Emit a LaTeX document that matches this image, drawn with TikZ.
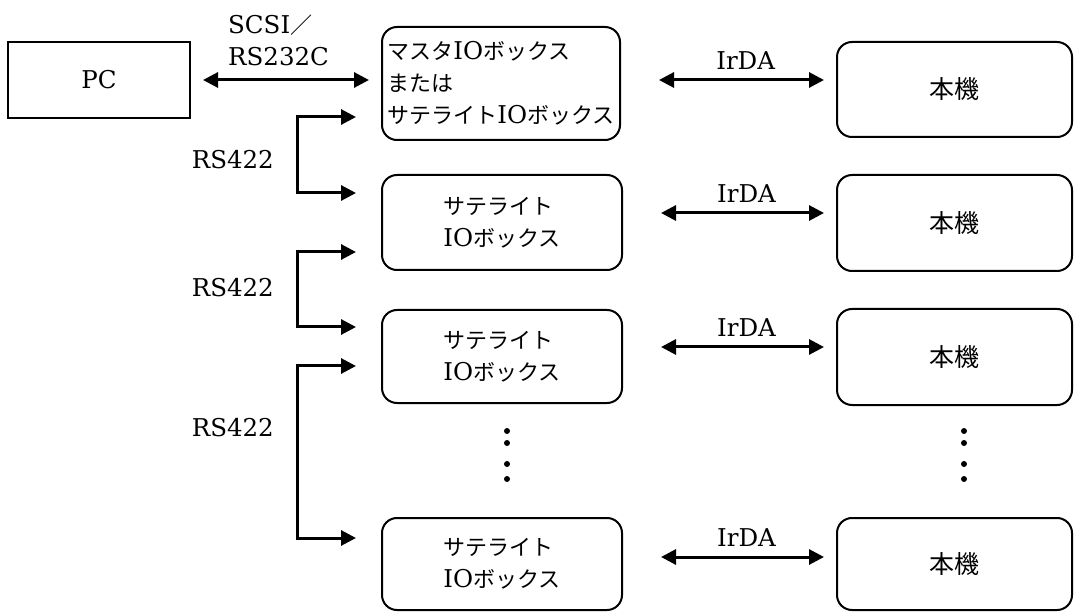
\documentclass[tikz,border=0pt]{standalone}
\usepackage{fontspec}
\setmainfont{DejaVu Serif}
\newfontfamily\jpfont{Noto Sans CJK JP}
\newcommand{\J}[1]{{\jpfont\fontsize{22}{32}\selectfont #1}}
\newcommand{\JK}[1]{{\jpfont\fontsize{25}{32}\selectfont #1}}
\usetikzlibrary{arrows.meta}
\begin{document}
\begin{tikzpicture}[x=1pt,y=-1pt,
  lbl/.style={font=\fontsize{24.5}{32}\selectfont, inner sep=0pt},
  rbox/.style={draw, line width=2pt, rounded corners=15pt, align=left,
    inner sep=0pt, font=\fontsize{24.5}{32}\selectfont},
  sbox/.style={draw, line width=2pt, inner sep=0pt, font=\fontsize{24.5}{32}\selectfont},
  link/.style={line width=3pt,
    {Triangle[length=15pt,width=15pt]}-{Triangle[length=15pt,width=15pt]}}
]
\useasboundingbox (0,0) rectangle (1074,612);

% left column
\node[sbox, minimum width=182pt, minimum height=76pt] (PC) at (99,80) {PC};
\node[rbox, minimum width=238pt, minimum height=113pt] (B1) at (501,83.5)
  {\J{マスタ}IO\J{ボックス}\\\J{または}\\\J{サテライト}IO\J{ボックス}};
\node[rbox, minimum width=240pt, minimum height=95pt] (B2) at (502,222.5)
  {\J{サテライト}\\IO\J{ボックス}};
\node[rbox, minimum width=240pt, minimum height=93pt] (B3) at (502,356.5)
  {\J{サテライト}\\IO\J{ボックス}};
\node[rbox, minimum width=240pt, minimum height=92pt] (B4) at (502,564)
  {\J{サテライト}\\IO\J{ボックス}};

% right column
\node[rbox, minimum width=235pt, minimum height=95pt] (R1) at (954.5,89.5) {\JK{本機}};
\node[rbox, minimum width=235pt, minimum height=96pt] (R2) at (954.5,223) {\JK{本機}};
\node[rbox, minimum width=235pt, minimum height=96pt] (R3) at (954.5,357) {\JK{本機}};
\node[rbox, minimum width=235pt, minimum height=92pt] (R4) at (954.5,564) {\JK{本機}};

% PC link
\draw[link, shorten <=12pt, shorten >=12pt] (PC.east) -- (PC.east -| B1.west);
\node[lbl, anchor=south west, align=left] (scsi) at (228,66) {SCSI\J{／}\\RS232C};

% IrDA links
\draw[link, shorten <=38pt, shorten >=12pt] ([yshift=3.5pt]B1.east) -- ([yshift=3.5pt]B1.east -| R1.west)
  node[lbl, pos=0.58, above=9pt] (ir1) {IrDA};
\draw[link, shorten <=38pt, shorten >=12pt] ([yshift=9.5pt]B2.east) -- ([yshift=9.5pt]B2.east -| R2.west)
  node[lbl, pos=0.58, above=9pt] (ir2) {IrDA};
\draw[link, shorten <=38pt, shorten >=12pt] ([yshift=9.5pt]B3.east) -- ([yshift=9.5pt]B3.east -| R3.west)
  node[lbl, pos=0.58, above=9pt] (ir3) {IrDA};
\draw[link, shorten <=38pt, shorten >=12pt] ([yshift=7pt]B4.east) -- ([yshift=7pt]B4.east -| R4.west)
  node[lbl, pos=0.58, above=9pt] (ir4) {IrDA};

% RS422 brackets
\coordinate (k1a) at (297,117); \coordinate (k1b) at (297,193);
\coordinate (k2a) at (297,252); \coordinate (k2b) at (297,327);
\coordinate (k3a) at (297,366); \coordinate (k3b) at (297,538);
\draw[link, shorten <=25pt, shorten >=25pt] (k1a -| B1.west) -- (k1a) -- (k1b) -- (k1b -| B2.west);
\draw[link, shorten <=25pt, shorten >=25pt] (k2a -| B2.west) -- (k2a) -- (k2b) -- (k2b -| B3.west);
\draw[link, shorten <=25pt, shorten >=25pt] (k3a -| B3.west) -- (k3a) -- (k3b) -- (k3b -| B4.west);
\node[lbl, anchor=east] (rs1) at (274,160) {RS422};
\node[lbl, anchor=east] (rs2) at (274,288) {RS422};
\node[lbl, anchor=east] (rs3) at (274,428) {RS422};

% ellipsis dots
\foreach \yy in {431,443,464,479} {
  \fill (507,\yy) circle (3pt);
  \fill (964,\yy) circle (3pt);
}
\end{tikzpicture}
\end{document}
